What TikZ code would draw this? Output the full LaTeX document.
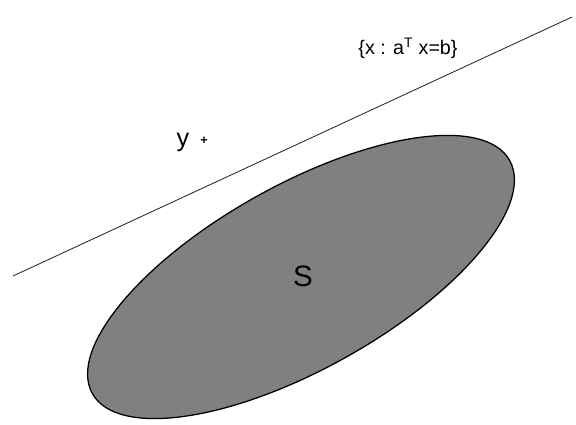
\documentclass[tikz,border=0pt]{standalone}
\usepackage{fontspec}
\setmainfont{Liberation Sans}
\usetikzlibrary{positioning,calc}

\begin{document}
\begin{tikzpicture}[
  setfill/.style={draw=black, line width=0.9pt, fill=black!50},
  hyper/.style={draw=black!85, line width=0.6pt},
  lbl/.style={inner sep=0pt, font=\fontsize{14}{16}\selectfont},
  ptlbl/.style={inner sep=0pt, font=\fontsize{18}{20}\selectfont},
  setlbl/.style={inner sep=0pt, font=\fontsize{21}{24}\selectfont}
]
\useasboundingbox (0,0) rectangle (14.4,10.625);

% Hyperplane
\coordinate (hpA) at (0.325, 3.725);
\coordinate (hpB) at (14.3, 10.2);
\draw[hyper] (hpA) -- (hpB);
\node[lbl] (hplabel) at (10.2, 9.425) {\{x : a\textsuperscript{T} x=b\}};

% Convex set
\draw[setfill] (7.525, 3.7) ellipse [x radius=5.975cm, y radius=2.3cm, rotate=29.2];
\node[setlbl] (setS) at (7.575, 3.725) {S};

% Point y
\node[ptlbl] (ylabel) at (4.575, 7.075) {y};
\node[inner sep=0pt, font=\fontsize{9}{10}\selectfont\bfseries] (ypt) at (5.1, 7.1) {+};
\end{tikzpicture}
\end{document}
